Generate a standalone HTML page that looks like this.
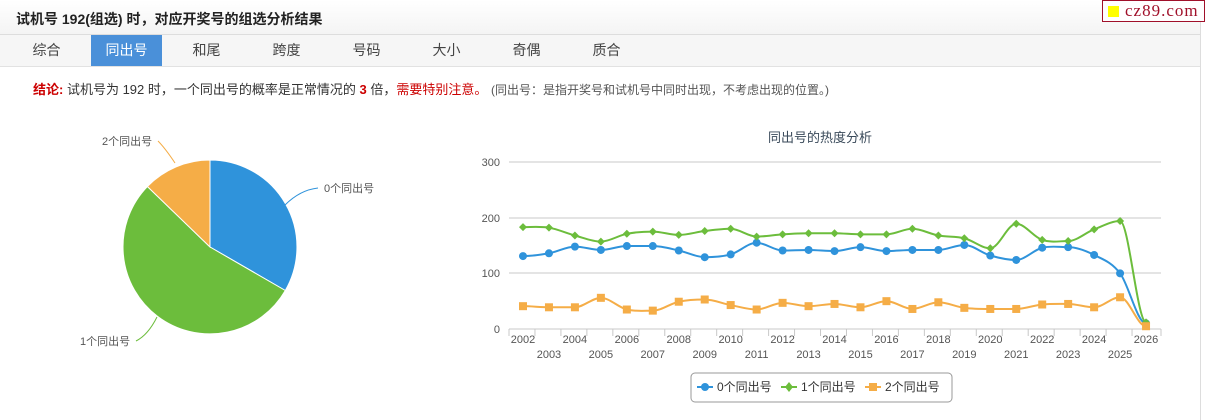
<!DOCTYPE html>
<html><head><meta charset="utf-8">
<style>
*{margin:0;padding:0;box-sizing:border-box}
body{width:1205px;height:420px;background:#fff;font-family:"Liberation Sans","Noto Sans CJK SC",sans-serif;position:relative;overflow:hidden}
.wrap{position:absolute;left:0;top:0;width:1201px;height:420px;border-right:1px solid #ddd}
.hd{height:35px;background:linear-gradient(#fff,#f4f4f4);border-bottom:1px solid #ddd;font-size:14px;font-weight:bold;color:#222;padding:9px 0 0 16px}
.tabs{height:32px;background:#f6f6f6;border-bottom:1px solid #e2e2e2;position:relative}
.tabs span{position:absolute;top:0;height:31px;line-height:31px;font-size:14px;color:#444;text-align:center;width:71px}
.tabs span.on{background:#4a90d9;color:#fff}
.concl{position:absolute;top:79px;left:33px;font-size:13px;color:#333}
.logo{position:absolute;right:0;top:0;width:103px;height:22px;border:1px solid #a0102a;background:#fff;font-family:"Liberation Serif",serif;font-size:17px;color:#a0102a;line-height:20px;padding-left:22px;letter-spacing:1px}
.logo i{position:absolute;left:5px;top:5px;width:11px;height:11px;background:#ff0}
</style></head><body>
<div class="wrap">
<div class="hd">试机号 192(组选) 时，对应开奖号的组选分析结果</div>
<div class="tabs">
<span style="left:11px">综合</span><span class="on" style="left:91px">同出号</span><span style="left:171px">和尾</span><span style="left:251px">跨度</span><span style="left:331px">号码</span><span style="left:411px">大小</span><span style="left:491px">奇偶</span><span style="left:571px">质合</span>
</div>
<div class="concl"><b style="color:#c00">结论:</b> 试机号为 192 时，一个同出号的概率是正常情况的 <b style="color:#c00">3</b> 倍，<span style="color:#c00">需要特别注意。</span> <span style="font-size:12px;color:#555">(同出号：是指开奖号和试机号中同时出现，不考虑出现的位置。)</span></div>
</div>
<div class="logo"><i></i>cz89.com</div>
<svg id="s" width="1205" height="420" style="position:absolute;left:0;top:0" font-family="Liberation Sans,Noto Sans CJK SC,sans-serif">
<path d="M210,247 L210,160 A87,87 0 0 1 285.3,290.5 Z" fill="#2f93db" stroke="#fff"/>
<path d="M210,247 L285.3,290.5 A87,87 0 1 1 147.4,186.5 Z" fill="#6cbd3c" stroke="#fff"/>
<path d="M210,247 L147.4,186.5 A87,87 0 0 1 210,160 Z" fill="#f5ad47" stroke="#fff"/>
<path d="M285,205 Q300,190 318,188" fill="none" stroke="#2f93db"/>
<text x="324" y="192" font-size="11" fill="#555">0个同出号</text>
<path d="M175,163 Q165,148 158,141" fill="none" stroke="#f5ad47"/>
<text x="102" y="145" font-size="11" fill="#555">2个同出号</text>
<path d="M157,317 Q148,335 136,341" fill="none" stroke="#6cbd3c"/>
<text x="80" y="345" font-size="11" fill="#555">1个同出号</text>
<text x="820" y="142" font-size="13" fill="#3a4a5a" text-anchor="middle">同出号的热度分析</text>
<g stroke="#c8c8c8"><line x1="509" y1="162" x2="1161" y2="162"/><line x1="509" y1="218" x2="1161" y2="218"/><line x1="509" y1="273" x2="1161" y2="273"/><line x1="509" y1="329" x2="1161" y2="329"/></g>
<g font-size="11" fill="#555" text-anchor="end"><text x="500" y="166">300</text><text x="500" y="222">200</text><text x="500" y="277">100</text><text x="500" y="333">0</text></g>
<g id="ax"></g>
<g id="ser"></g>
<rect x="691" y="373" width="261" height="29" rx="4" fill="#fff" stroke="#999"/>
<line x1="697" y1="387" x2="713" y2="387" stroke="#2f93db" stroke-width="2"/><circle cx="705" cy="387" r="4" fill="#2f93db"/>
<text x="717" y="391" font-size="12" fill="#333">0个同出号</text>
<line x1="781" y1="387" x2="797" y2="387" stroke="#6cbd3c" stroke-width="2"/><path d="M789,382 L793,387 789,392 785,387Z" fill="#6cbd3c"/>
<text x="801" y="391" font-size="12" fill="#333">1个同出号</text>
<line x1="865" y1="387" x2="881" y2="387" stroke="#f5ad47" stroke-width="2"/><rect x="869" y="383" width="8" height="8" fill="#f5ad47"/>
<text x="885" y="391" font-size="12" fill="#333">2个同出号</text>
</svg>
<script>
var NS="http://www.w3.org/2000/svg";
function el(t,a,p){var e=document.createElementNS(NS,t);for(var k in a)e.setAttribute(k,a[k]);document.getElementById(p).appendChild(e);return e;}
var B=[131,136,148,142,149,149,141,129,134,155,141,142,140,147,140,142,142,151,132,124,146,147,133,100,10];
var G=[183,182,168,157,171,175,169,176,180,166,170,172,172,170,170,180,168,163,145,189,160,158,179,194,12];
var O=[41,39,39,56,35,33,49,53,43,35,47,41,45,39,50,36,48,38,36,36,44,45,39,57,5];
function X(i){return 523+i*25.96}function Y(v){return 329-v*167/300}
for(var i=0;i<25;i++){
 var tx=509+i*25.96;el("line",{x1:tx,y1:329,x2:tx,y2:336,stroke:"#c8c8c8"},"ax");
 var t=el("text",{x:X(i),y:i%2?358:343,"font-size":11,fill:"#555","text-anchor":"middle"},"ax");t.textContent=2002+i;
}
el("line",{x1:1161,y1:329,x2:1161,y2:336,stroke:"#c8c8c8"},"ax");
function slope(d,i){if(i==0||i==d.length-1)return 0;var a=d[i]-d[i-1],b=d[i+1]-d[i];if(a*b<=0)return 0;return (d[i+1]-d[i-1])/2;}
function path(d){var p="M"+X(0)+","+Y(d[0]);for(var i=0;i<d.length-1;i++){
 var c1=d[i]+slope(d,i)/3,c2=d[i+1]-slope(d,i+1)/3;
 p+=" C"+(X(i)+8.65)+","+Y(c1)+" "+(X(i+1)-8.65)+","+Y(c2)+" "+X(i+1)+","+Y(d[i+1]);}return p;}
[[B,"#2f93db","c"],[G,"#6cbd3c","d"],[O,"#f5ad47","s"]].forEach(function(s){
 el("path",{d:path(s[0]),fill:"none",stroke:s[1],"stroke-width":2},"ser");
 s[0].forEach(function(v,i){var x=X(i),y=Y(v);
  if(s[2]=="c")el("circle",{cx:x,cy:y,r:4,fill:s[1]},"ser");
  else if(s[2]=="d")el("path",{d:"M"+x+","+(y-4)+" L"+(x+4)+","+y+" "+x+","+(y+4)+" "+(x-4)+","+y+"Z",fill:s[1]},"ser");
  else el("rect",{x:x-4,y:y-4,width:8,height:8,fill:s[1]},"ser");});
});
</script>
</body></html>
